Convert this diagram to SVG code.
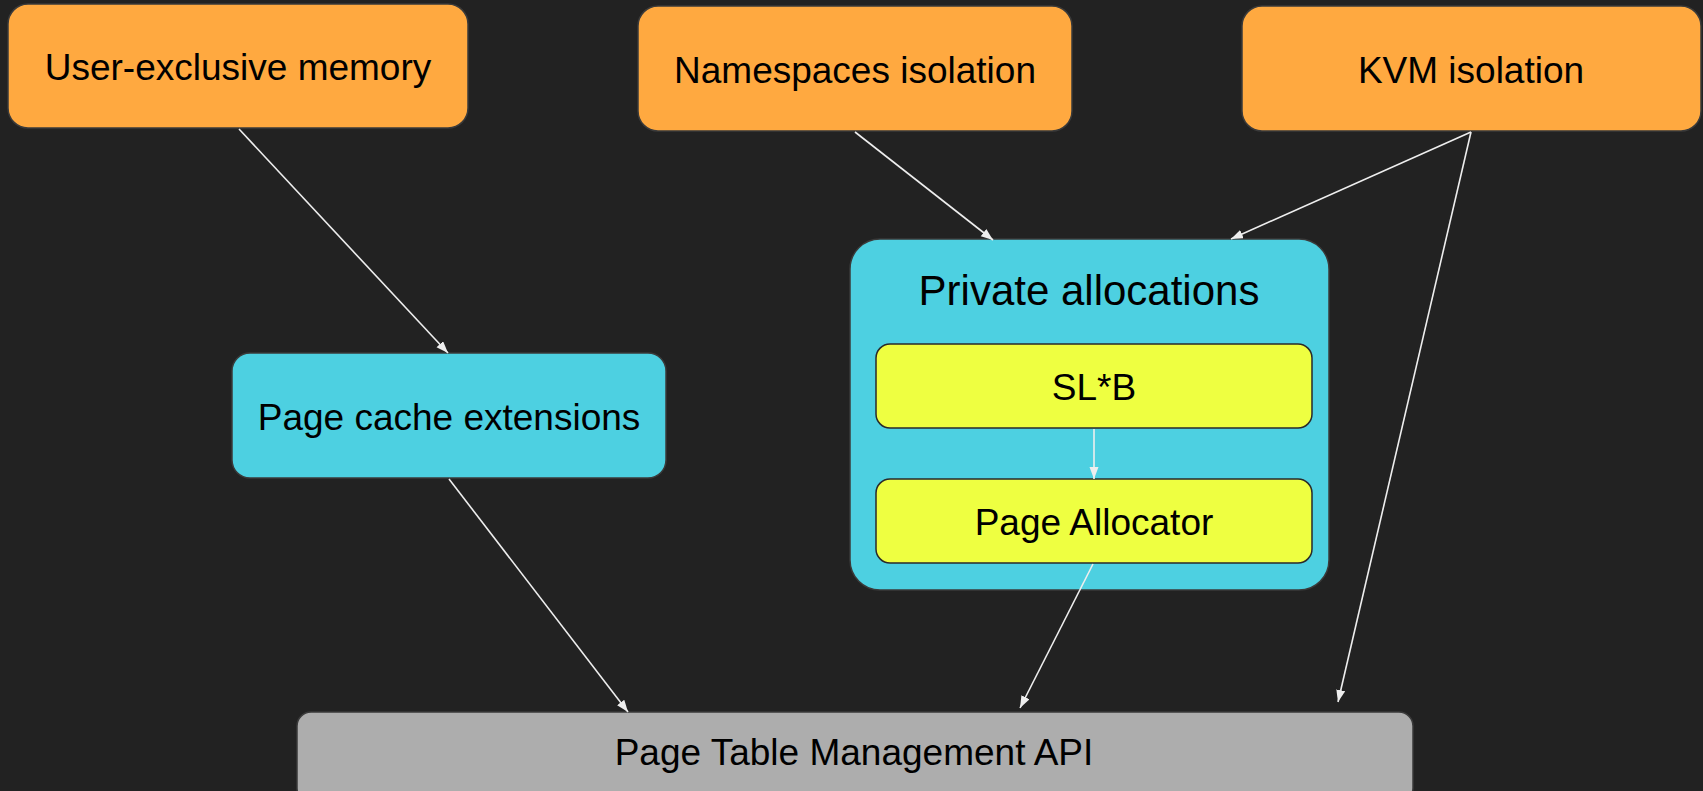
<svg xmlns="http://www.w3.org/2000/svg" width="1703" height="791" viewBox="0 0 1703 791">
<style>
.bg{fill:#222222}
.orange{fill:#FFA940;stroke:#3a3a3a;stroke-width:1.5}
.cyan{fill:#4DD0E1;stroke:#3a3a3a;stroke-width:1.5}
.yellow{fill:#EEFF41;stroke:#2a2a2a;stroke-width:1.5}
.gray{fill:#ADADAD;stroke:#3a3a3a;stroke-width:1.5}
.t{font-family:"Liberation Sans",Arial,sans-serif;font-size:37px;fill:#000;text-anchor:middle}
.big{font-size:42px}
.conn line{stroke:#EEEEEE;stroke-width:1.6;marker-end:url(#arr)}
</style>
<defs>
<marker id="arr" markerUnits="userSpaceOnUse" markerWidth="13" markerHeight="10" refX="12" refY="4.5" orient="auto">
<path d="M0,0 L12,4.5 L0,9 z" fill="#EEEEEE"/>
</marker>
</defs>
<rect class="bg" x="0" y="0" width="1703" height="791"/>
<g id="user-exclusive-memory">
<rect class="orange" x="8" y="4" width="460" height="124" rx="20"/>
<text class="t" x="238" y="80">User-exclusive memory</text>
</g>
<g id="namespaces-isolation">
<rect class="orange" x="638" y="6" width="434" height="125" rx="20"/>
<text class="t" x="855" y="83">Namespaces isolation</text>
</g>
<g id="kvm-isolation">
<rect class="orange" x="1242" y="6" width="459" height="125" rx="20"/>
<text class="t" x="1471" y="83">KVM isolation</text>
</g>
<g id="page-cache-extensions">
<rect class="cyan" x="232" y="353" width="434" height="125" rx="18"/>
<text class="t" x="449" y="430">Page cache extensions</text>
</g>
<g id="private-allocations">
<rect class="cyan" x="850" y="239" width="479" height="351" rx="30"/>
<text class="t big" x="1089" y="305">Private allocations</text>
</g>
<g id="slab">
<rect class="yellow" x="876" y="344" width="436" height="84" rx="14"/>
<text class="t" x="1094" y="400">SL*B</text>
</g>
<g id="page-allocator">
<rect class="yellow" x="876" y="479" width="436" height="84" rx="14"/>
<text class="t" x="1094" y="535">Page Allocator</text>
</g>
<g id="page-table-management-api">
<rect class="gray" x="297" y="712" width="1116" height="90" rx="14"/>
<text class="t" x="854" y="765">Page Table Management API</text>
</g>
<g id="connectors" class="conn">
<line x1="239" y1="129" x2="448" y2="353"/>
<line x1="855" y1="132" x2="993" y2="240"/>
<line x1="1471" y1="132" x2="1231" y2="239"/>
<line x1="1471" y1="132" x2="1338" y2="702"/>
<line x1="449" y1="479" x2="628" y2="712"/>
<line x1="1094" y1="429" x2="1094" y2="479"/>
<line x1="1093" y1="564" x2="1020" y2="708"/>
</g>
</svg>
